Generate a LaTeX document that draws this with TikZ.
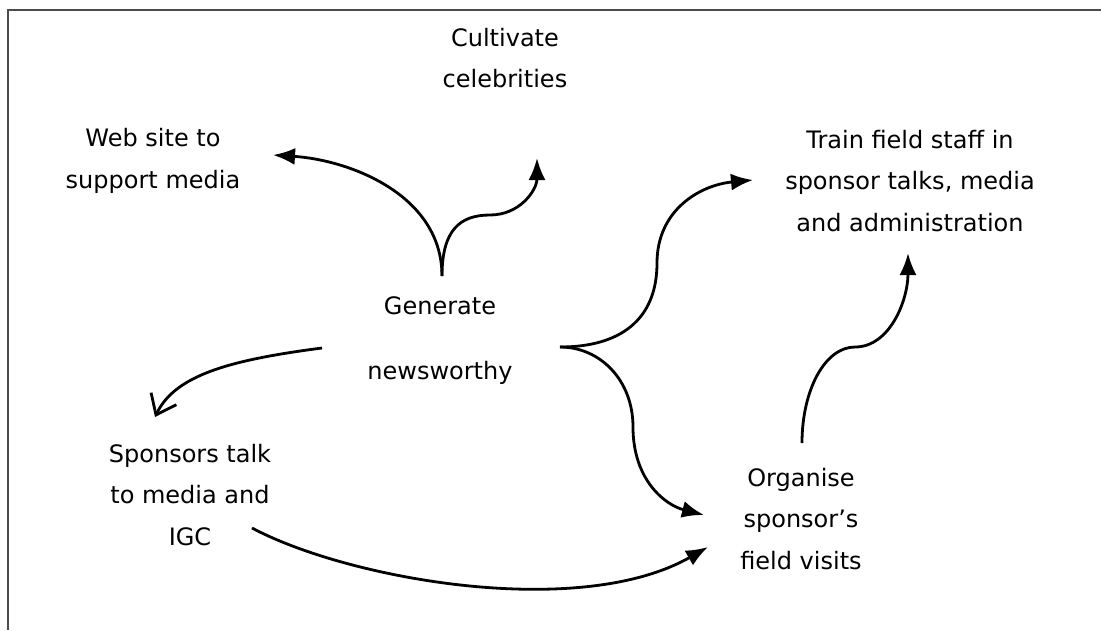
\documentclass[tikz,border=0pt]{standalone}
\usepackage{fontspec}
\setmainfont{DejaVu Sans}
\usetikzlibrary{arrows.meta}

\tikzset{
  txt/.style={align=center, font=\fontsize{24}{41.5}\selectfont, inner sep=0pt},
  widetxt/.style={txt, font=\fontsize{24}{65}\selectfont},
  arr/.style={line width=2.8pt, -{Latex[length=22pt,width=17pt]}},
  barb/.style={line width=2.8pt, -{Straight Barb[length=18pt,width=28pt]}},
  frame/.style={line width=1.5pt, gray!60!black},
}

\begin{document}
\begin{tikzpicture}[x=1pt, y=-1pt]

  \useasboundingbox (0,0) rectangle (1101,630);
  \draw[frame] (1101,10) -- (8,10) -- (8,630);

  \node[txt] (web) at (153,161) {Web site to\\support media};
  \node[txt] (celeb) at (505,58) {Cultivate\\celebrities};
  \node[txt] (train) at (910,181) {Train field staff in\\sponsor talks, media\\and administration};
  \node[widetxt] (gen) at (440,341) {Generate\\newsworthy};
  \node[txt] (spons) at (190,495) {Sponsors talk\\to media and\\IGC};
  \node[txt] (org) at (801,519) {Organise\\sponsor’s\\field visits};

  \coordinate (gtop) at ([shift={(2,-65)}]gen.center);
  \coordinate (gright) at ([shift={(120,6)}]gen.center);
  \coordinate (gleft) at ([shift={(-118,7)}]gen.center);
  \coordinate (webin) at ([shift={(120,-6)}]web.center);
  \coordinate (celebin) at ([shift={(32,100)}]celeb.center);
  \coordinate (trainin) at ([shift={(-157,-1)}]train.center);
  \coordinate (trainbot) at ([shift={(-2,72)}]train.center);
  \coordinate (orgin) at ([shift={(-97,-4)}]org.center);
  \coordinate (orgin2) at ([shift={(-93,28)}]org.center);
  \coordinate (orgtop) at ([shift={(1,-76)}]org.center);
  \coordinate (sponsin) at ([shift={(-35,-78)}]spons.center);
  \coordinate (sponsout) at ([shift={(62,33)}]spons.center);

  \draw[arr] (gtop) .. controls +(0,-81) and +(77,5) .. (webin);
  \draw[arr] (gtop) .. controls +(0,-46) and +(-30,0) .. (490,215)
                    .. controls +(30,0) and +(0,32) .. (celebin);
  \draw[arr] (gright) .. controls +(60,0) and +(0,57) .. (657,263)
                      .. controls +(0,-53) and +(-53,5) .. (trainin);
  \draw[arr] (gright) .. controls +(40,0) and +(0,-47) .. (633,427)
                      .. controls +(0,53) and +(-39,-10) .. (orgin);
  \draw[arr] (orgtop) .. controls +(0,-53) and +(-30,0) .. (855,347)
                      .. controls +(35,0) and +(0,47) .. (trainbot);
  \draw[barb] (gleft) .. controls +(-92,12) and +(20,-42) .. (sponsin);
  \draw[arr] (sponsout) .. controls +(98,52) and +(-128,73) .. (orgin2);

\end{tikzpicture}
\end{document}
